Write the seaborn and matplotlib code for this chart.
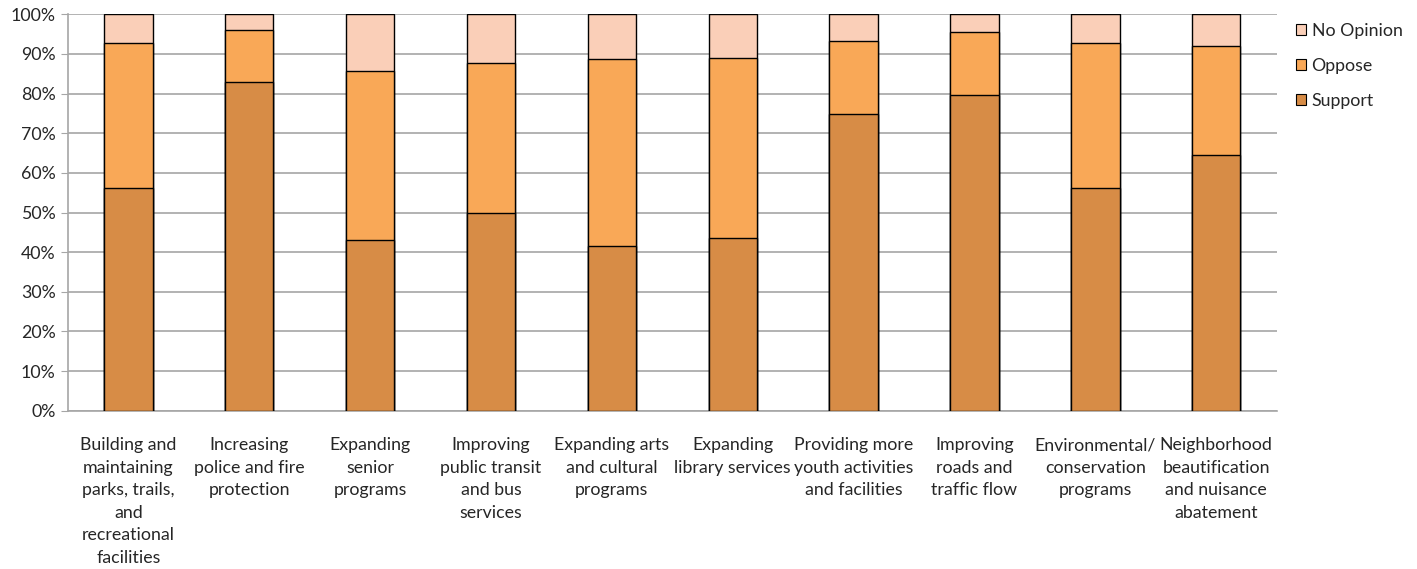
import numpy as np
import pandas as pd
import matplotlib
matplotlib.use("Agg")
import matplotlib.pyplot as plt
import seaborn as sns
from matplotlib.patches import Patch

categories = [
    "Building and\nmaintaining\nparks, trails,\nand\nrecreational\nfacilities",
    "Increasing\npolice and fire\nprotection",
    "Expanding\nsenior\nprograms",
    "Improving\npublic transit\nand bus\nservices",
    "Expanding arts\nand cultural\nprograms",
    "Expanding\nlibrary services",
    "Providing more\nyouth activities\nand facilities",
    "Improving\nroads and\ntraffic flow",
    "Environmental/\nconservation\nprograms",
    "Neighborhood\nbeautification\nand nuisance\nabatement",
]
support = [56.2, 83.0, 43.1, 50.0, 41.6, 43.7, 74.9, 79.6, 56.3, 64.4]
oppose = [36.6, 13.0, 42.5, 37.7, 47.0, 45.2, 18.3, 15.8, 36.5, 27.6]
no_opinion = [100 - s - o for s, o in zip(support, oppose)]

colors = {"Support": "#D78C46", "Oppose": "#F9A857", "No Opinion": "#FACFB8"}

sns.set_style("white")
plt.rcParams["font.family"] = ["Lato", "DejaVu Sans"]

df = pd.DataFrame({
    "category": categories,
    "support": support,
    "oppose": oppose,
    "no_opinion": no_opinion,
})
df["top1"] = df["support"] + df["oppose"]
df["top2"] = df["top1"] + df["no_opinion"]

fig = plt.figure(figsize=(14.17, 5.69), dpi=100)
ax = fig.add_axes([0.048, 0.278, 0.853, 0.697])

# stacked bars: draw cumulative heights from the top layer down
for col, name in [("top2", "No Opinion"), ("top1", "Oppose"), ("support", "Support")]:
    sns.barplot(data=df, x="category", y=col, color=colors[name], width=0.4,
                edgecolor="black", linewidth=1, saturation=1, ax=ax, zorder=3)

ax.set_xlim(-0.5, len(categories) - 0.5)
ax.set_ylim(0, 100)
ax.set_yticks(np.arange(0, 101, 10))
ax.set_yticklabels([f"{v}%" for v in range(0, 101, 10)], fontsize=12.8)
ax.yaxis.grid(True, color="#A6A6A6", linewidth=1.2, zorder=0)
ax.set_axisbelow(True)
ax.tick_params(axis="y", length=5, color="#A6A6A6", pad=4, left=True)

ax.set_xticks(range(len(categories)))
ax.set_xticklabels(categories, fontsize=12.8, linespacing=1.5, va="top")
ax.tick_params(axis="x", which="major", length=0, pad=19)
ax.set_xticks(np.arange(-0.5, len(categories), 1), minor=True)
ax.tick_params(axis="x", which="minor", length=6, color="#A6A6A6", width=1.2)
ax.set_xlabel("")
ax.set_ylabel("")

for side in ["top", "right"]:
    ax.spines[side].set_visible(False)
for side in ["left", "bottom"]:
    ax.spines[side].set_color("#A6A6A6")
    ax.spines[side].set_linewidth(1.2)

handles = [Patch(facecolor=colors[n], edgecolor="black", linewidth=0.8, label=n)
           for n in ["No Opinion", "Oppose", "Support"]]
fig.legend(handles=handles, loc="upper left", bbox_to_anchor=(0.903, 0.988),
           frameon=False, fontsize=12.8, handlelength=0.6, handleheight=0.6,
           handletextpad=0.3, labelspacing=1.07)

fig.savefig("out.png", dpi=100)
